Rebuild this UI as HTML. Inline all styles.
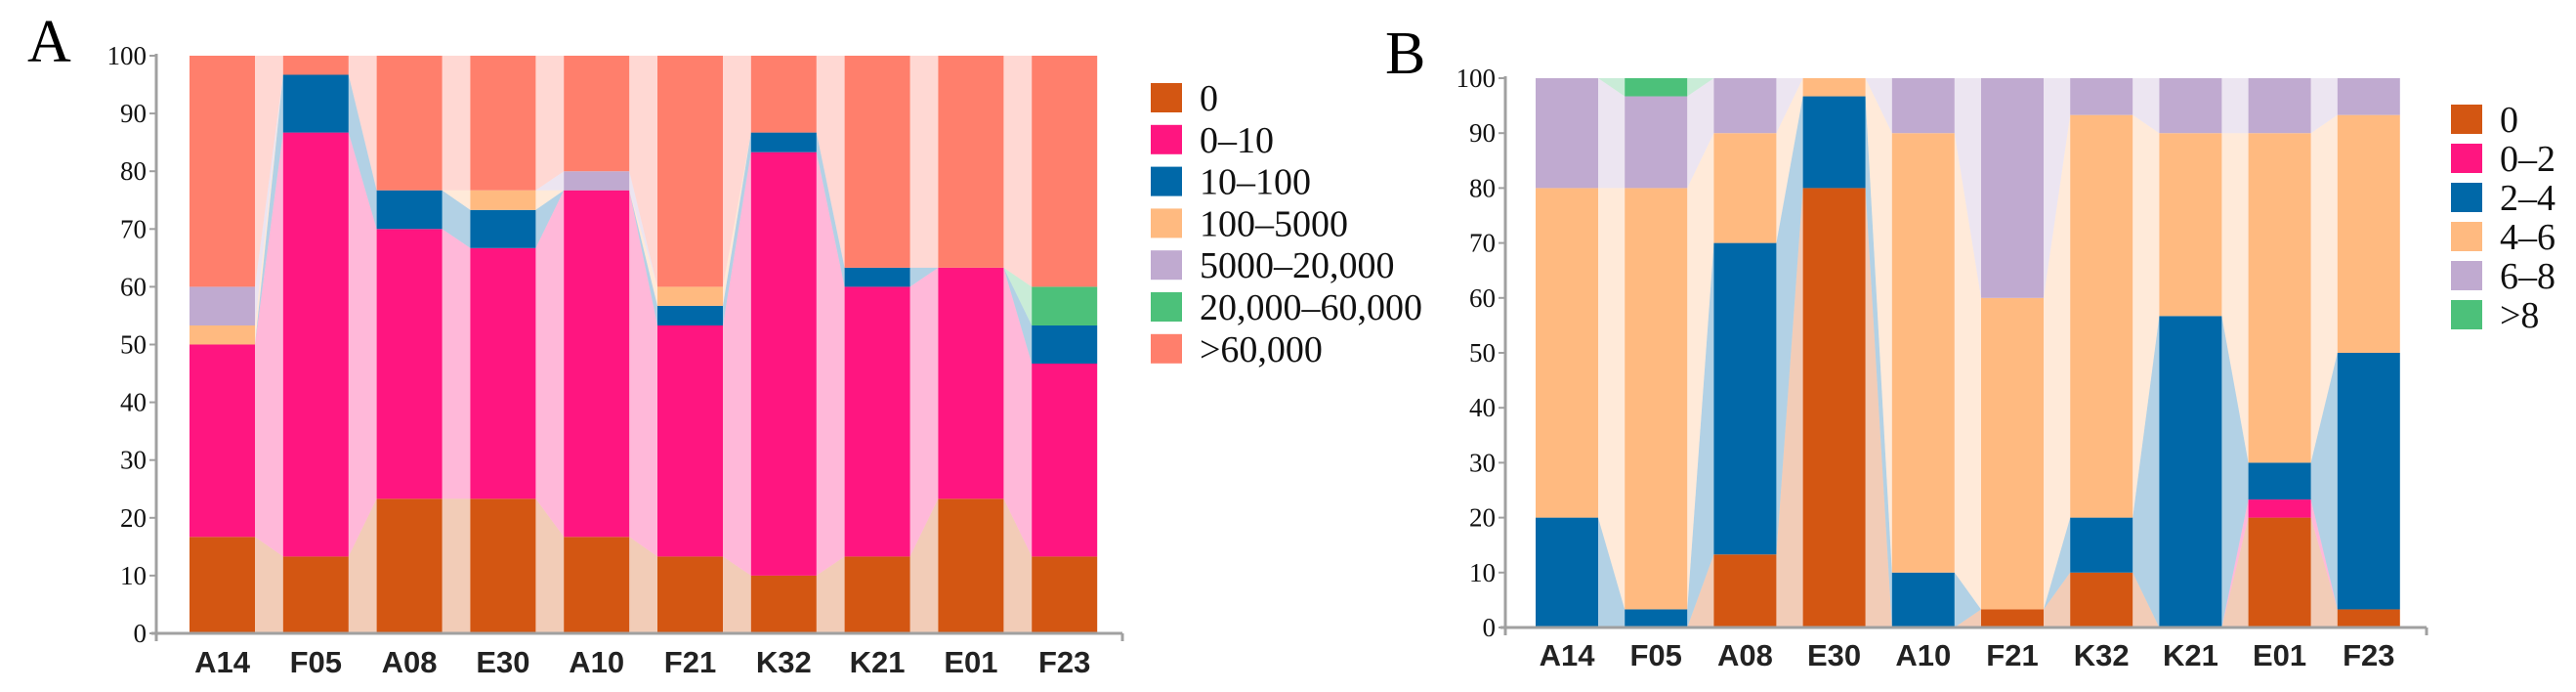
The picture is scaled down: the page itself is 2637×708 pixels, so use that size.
<!DOCTYPE html>
<html><head><meta charset="utf-8"><style>
html,body{margin:0;padding:0;background:#fff;}
svg{display:block;}
.serif{font-family:"Liberation Serif","DejaVu Serif",serif;}
.sans{font-family:"Liberation Sans","DejaVu Sans",sans-serif;}
</style></head><body>
<svg id="c" width="2637" height="708" xmlns="http://www.w3.org/2000/svg">
<text class="serif" x="28" y="63" font-size="62">A</text>
<text class="serif" x="1418" y="75" font-size="62">B</text>
<g id="ga"></g>
<g id="gb"></g>
</svg>
<script>
const categories = ["A14","F05","A08","E30","A10","F21","K32","K21","E01","F23"];
const ticks = [0,10,20,30,40,50,60,70,80,90,100];
const seriesA = ["0","0–10","10–100","100–5000","5000–20,000","20,000–60,000",">60,000"];
const colorsA = ["#d35612","#ff1580","#0068a8","#ffba80","#c0aad0","#4cc17a","#ff7f6c"];
const a0     = [16.7,13.3,23.3,23.3,16.7,13.3,10,13.3,23.3,13.3];
const a0_10  = [33.3,73.4,46.7,43.4,60,40,73.3,46.7,40,33.4];
const a10_100= [0,10,6.7,6.6,0,3.4,3.4,3.3,0,6.6];
const a100_5k= [3.3,0,0,3.4,0,3.3,0,0,0,0];
const a5k_20k= [6.7,0,0,0,3.3,0,0,0,0,0];
const a20_60k= [0,0,0,0,0,0,0,0,0,6.7];
const a60k   = [40,3.3,23.3,23.3,20,40,13.3,36.7,36.7,40];
const seriesB = ["0","0–2","2–4","4–6","6–8",">8"];
const colorsB = ["#d35612","#ff1580","#0068a8","#ffba80","#c0aad0","#4cc17a"];
const b0   = [0,0,13.3,80,0,3.3,10,0,20,3.3];
const b0_2 = [0,0,0,0,0,0,0,0,3.3,0];
const b2_4 = [20,3.3,56.7,16.7,10,0,10,56.7,6.7,46.7];
const b4_6 = [60,76.7,20,3.3,80,56.7,73.3,33.3,60,43.3];
const b6_8 = [20,16.7,10,0,10,40,6.7,10,10,6.7];
const b8   = [0,3.3,0,0,0,0,0,0,0,0];

const NS="http://www.w3.org/2000/svg";
function mk(parent,tag,attrs){const e=document.createElementNS(NS,tag);for(const k in attrs)e.setAttribute(k,attrs[k]);parent.appendChild(e);return e;}

function draw(g,cfg,data,names,colors,prefix){
  const yS=v=>cfg.y0-(cfg.y0-cfg.y100)*v/100;
  const xL=i=>cfg.x0+i*cfg.pitch;
  const cum=[];
  categories.forEach((c,i)=>{let s=0;cum.push(data.map(d=>{const b=s;s+=d[i];return [b,s];}));});
  for(let i=0;i<categories.length-1;i++){
    data.forEach((d,s)=>{
      const [b1,t1]=cum[i][s],[b2,t2]=cum[i+1][s];
      if(t1-b1<=0&&t2-b2<=0)return;
      const r=xL(i)+cfg.bw,l=xL(i+1);
      const p=mk(g,"polygon",{points:`${r},${yS(t1)} ${l},${yS(t2)} ${l},${yS(b2)} ${r},${yS(b1)}`,fill:colors[s],"fill-opacity":0.3});
      
      
    });
  }
  categories.forEach((c,i)=>{
    data.forEach((d,s)=>{
      const [b,t]=cum[i][s];if(t-b<=0)return;
      const r=mk(g,"rect",{x:xL(i),y:yS(t),width:cfg.bw,height:yS(b)-yS(t),fill:colors[s]});
      
      
    });
    const t=mk(g,"text",{class:"sans",x:xL(i)+cfg.bw/2,y:cfg.labY,"text-anchor":"middle","font-size":31,"font-weight":"bold",fill:"#222"});
    t.textContent=c;
    
    
  });
  const ax=mk(g,"line",{x1:cfg.ax,y1:cfg.y100-2,x2:cfg.ax,y2:cfg.y0+8,stroke:"#a0a0a0","stroke-width":3});
  
  const bx=mk(g,"line",{x1:cfg.ax-5,y1:cfg.y0,x2:cfg.axEnd,y2:cfg.y0,stroke:"#a0a0a0","stroke-width":3});
  
  mk(g,"line",{x1:cfg.axEnd,y1:cfg.y0,x2:cfg.axEnd,y2:cfg.y0+8,stroke:"#a0a0a0","stroke-width":3});
  ticks.forEach(v=>{
    mk(g,"line",{x1:cfg.ax-7,y1:yS(v),x2:cfg.ax,y2:yS(v),stroke:"#a0a0a0","stroke-width":2});
    const t=mk(g,"text",{class:"serif",x:cfg.ax-10,y:yS(v)+9,"text-anchor":"end","font-size":27,fill:"#111"});
    t.textContent=v;
    
    
  });
  names.forEach((n,s)=>{
    const cy=cfg.legY+s*cfg.legDy;
    const r=mk(g,"rect",{x:cfg.legX,y:cy-15,width:32,height:30,fill:colors[s]});
    
    
    const t=mk(g,"text",{class:"serif",x:cfg.legX+50,y:cy+13,"font-size":cfg.legFs,fill:"#111"});
    t.textContent=n;
    
    
  });
}
draw(document.getElementById('ga'),{x0:194,pitch:95.8,bw:67,y0:648,y100:57,ax:160,axEnd:1149,labY:688,legX:1178,legY:100,legDy:42.8,legFs:38},
  [a0,a0_10,a10_100,a100_5k,a5k_20k,a20_60k,a60k],seriesA,colorsA,'a');
draw(document.getElementById('gb'),{x0:1572,pitch:91.2,bw:64,y0:642,y100:80,ax:1541,axEnd:2484,labY:681,legX:2509,legY:122,legDy:40,legFs:38},
  [b0,b0_2,b2_4,b4_6,b6_8,b8],seriesB,colorsB,'b');
</script>
</body></html>
